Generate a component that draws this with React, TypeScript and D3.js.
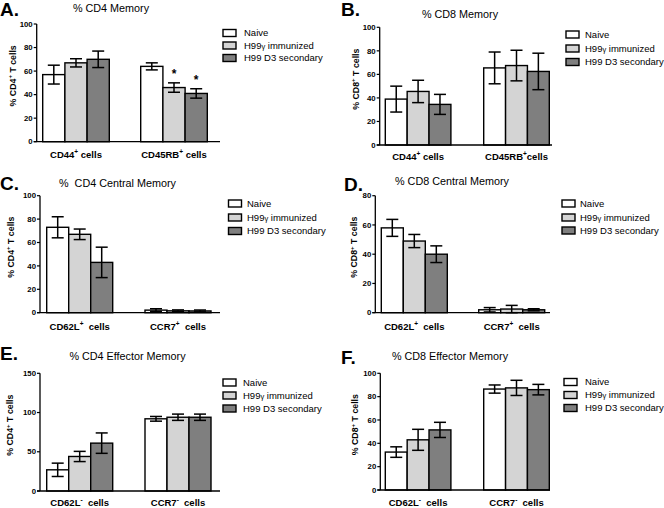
import React from "react";
import * as d3 from "d3";

const SERIES = ["Naive", "H99γ immunized", "H99 D3 secondary"];
const COLORS = ["#ffffff", "#d4d4d4", "#7f7f7f"];

// Panel A: % CD4 Memory
const A_CATS = [["CD44", "+", " cells"], ["CD45RB", "+", " cells"]];
const A_MEANS = [[57, 67, 70], [64, 46, 41]];
const A_ERRS = [[8, 3.5, 7], [3, 4, 4]];
const A_STARS = [[false, false, false], [false, true, true]];
const A_TICKS = [0, 20, 40, 60, 80, 100];

// Panel B: % CD8 Memory
const B_CATS = [["CD44", "+", " cells"], ["CD45RB", "+", "cells"]];
const B_MEANS = [[39, 45.5, 34.5], [65.5, 67.5, 62.5]];
const B_ERRS = [[11, 9.5, 8.5], [13.5, 13, 15.5]];
const B_TICKS = [0, 20, 40, 60, 80, 100];

// Panel C: % CD4 Central Memory
const C_CATS = [["CD62L", "+", "  cells"], ["CCR7", "+", "  cells"]];
const C_MEANS = [[73, 67, 43], [2.2, 1.6, 1.5]];
const C_ERRS = [[9, 4.5, 13], [1.2, 0.8, 0.8]];
const C_TICKS = [0, 20, 40, 60, 80, 100];

// Panel D: % CD8 Central Memory
const D_CATS = [["CD62L", "+", "  cells"], ["CCR7", "+", "  cells"]];
const D_MEANS = [[58, 49, 40], [2, 2.5, 2]];
const D_ERRS = [[5.8, 4.5, 5.7], [1.5, 2.5, 0.7]];
const D_TICKS = [0, 20, 40, 60, 80];

// Panel E: % CD4 Effector Memory
const E_CATS = [["CD62L", "-", "  cells"], ["CCR7", "-", "  cells"]];
const E_MEANS = [[27, 44, 61], [92, 94, 94]];
const E_ERRS = [[8.5, 6.5, 13], [3, 4, 4]];
const E_TICKS = [0, 50, 100, 150];

// Panel F: % CD8 Effector Memory
const F_CATS = [["CD62L", "-", "  cells"], ["CCR7", "-", "  cells"]];
const F_MEANS = [[32.5, 43, 51.5], [86.5, 87.5, 86]];
const F_ERRS = [[4.5, 9, 6.5], [3.5, 6.5, 4.5]];
const F_TICKS = [0, 20, 40, 60, 80, 100];

const FONT = "'Liberation Sans', Arial, Helvetica, sans-serif";

type Layout = {
  letter: string; letterX: number; letterY: number;
  title: string; titleX: number; titleY: number;
  yLabel: string; yLabelX: number;
  axisX: number; xEnd: number; yTop: number; yBottom: number; yMax: number;
  barsStart: number; barsEnd: number; groupStep: number;
  xLabelY: number;
  legX: number; legTextX: number; legRows: number[];
};

type PanelProps = {
  lay: Layout; cats: string[][]; means: number[][]; errs: number[][];
  ticks: number[]; stars?: boolean[][];
};

function Panel({ lay, cats, means, errs, ticks, stars }: PanelProps) {
  const y = d3.scaleLinear().domain([0, lay.yMax]).range([lay.yBottom, lay.yTop]);
  const catNames = cats.map((c) => c[0]);
  const bw = lay.barsEnd - lay.barsStart;
  const bandW = bw - lay.groupStep;
  const pInner = 1 - bandW / lay.groupStep;
  const x0 = d3.scaleBand().domain(catNames).range([lay.barsStart, lay.barsEnd]).paddingInner(pInner).paddingOuter(0);
  const x1 = d3.scaleBand().domain(SERIES).range([0, x0.bandwidth()]).padding(0);
  const capHalf = 6;
  const yMid = (lay.yTop + lay.yBottom) / 2 - 7;
  const [yl1, yl2, yl3] = lay.yLabel.split("|");
  return (
    <g fontFamily={FONT}>
      <text x={lay.letterX} y={lay.letterY} fontSize={19} fontWeight="bold">{lay.letter}</text>
      <text x={lay.titleX} y={lay.titleY} fontSize={10.8} textAnchor="middle" style={{ whiteSpace: "pre" }}>{lay.title}</text>
      <text transform={`translate(${lay.yLabelX},${yMid}) rotate(-90)`} fontSize={8.8} fontWeight="bold" textAnchor="middle">
        {yl1}<tspan fontSize={6} dy={-3.5}>{yl2}</tspan><tspan dy={3.5}>{yl3}</tspan>
      </text>
      {/* bars */}
      {cats.map((c, ci) => (
        <g key={c[0]}>
          {SERIES.map((s, si) => {
            const bx = (x0(c[0]) as number) + (x1(s) as number);
            const w = x1.bandwidth();
            const m = means[ci][si];
            const e = errs[ci][si];
            const cx = bx + w / 2;
            return (
              <g key={s}>
                <rect x={bx} y={y(m)} width={w} height={y(0) - y(m)} fill={COLORS[si]} stroke="#000" strokeWidth={1.4} />
                <line x1={cx} x2={cx} y1={y(m - e)} y2={y(m + e)} stroke="#000" strokeWidth={1.5} />
                <line x1={cx - capHalf} x2={cx + capHalf} y1={y(m + e)} y2={y(m + e)} stroke="#000" strokeWidth={1.5} />
                <line x1={cx - capHalf} x2={cx + capHalf} y1={y(m - e)} y2={y(m - e)} stroke="#000" strokeWidth={1.5} />
                {stars && stars[ci][si] ? (
                  <text x={cx} y={y(m + e) - 5} fontSize={12} fontWeight="bold" textAnchor="middle">*</text>
                ) : null}
              </g>
            );
          })}
          <text x={(x0(c[0]) as number) + x0.bandwidth() / 2} y={lay.xLabelY} fontSize={9.5} fontWeight="bold" textAnchor="middle" style={{ whiteSpace: "pre" }}>
            {c[0]}<tspan fontSize={6.5} dy={-4}>{c[1]}</tspan><tspan dy={4}>{c[2]}</tspan>
          </text>
        </g>
      ))}
      {/* axes */}
      <line x1={lay.axisX} x2={lay.axisX} y1={lay.yTop} y2={lay.yBottom} stroke="#000" strokeWidth={1.3} />
      <line x1={lay.axisX - 3} x2={lay.xEnd} y1={lay.yBottom} y2={lay.yBottom} stroke="#000" strokeWidth={1.3} />
      {ticks.map((t) => (
        <g key={t}>
          <line x1={lay.axisX - 3} x2={lay.axisX} y1={y(t)} y2={y(t)} stroke="#000" strokeWidth={1.2} />
          <text x={lay.axisX - 4} y={y(t)} dy="0.35em" fontSize={7.8} fontWeight="bold" textAnchor="end">{t}</text>
        </g>
      ))}
      {/* legend */}
      {SERIES.map((s, si) => (
        <g key={s}>
          <rect x={lay.legX} y={lay.legRows[si] - 3.5} width={13} height={7} fill={COLORS[si]} stroke="#000" strokeWidth={1.4} />
          <text x={lay.legTextX} y={lay.legRows[si]} dy="0.36em" fontSize={9.5}>
            {si === 1 ? (<>H99<tspan fontSize={7.5}>γ</tspan> immunized</>) : s}
          </text>
        </g>
      ))}
    </g>
  );
}

const LAYOUTS: Record<string, Layout> = {
  A: { letter: "A.", letterX: 0, letterY: 16, title: "% CD4 Memory", titleX: 111, titleY: 12,
    yLabel: "% CD4|+| T cells", yLabelX: 15.5, axisX: 36.7, xEnd: 220, yTop: 24, yBottom: 141.7, yMax: 100,
    barsStart: 42.7, barsEnd: 207.3, groupStep: 98, xLabelY: 158, legX: 223, legTextX: 244, legRows: [33, 45.5, 58] },
  B: { letter: "B.", letterX: 341, letterY: 16, title: "% CD8 Memory", titleX: 460, titleY: 17.5,
    yLabel: "% CD8|+| T cells", yLabelX: 358.5, axisX: 379.7, xEnd: 552, yTop: 27.3, yBottom: 145, yMax: 100,
    barsStart: 385.3, barsEnd: 549.3, groupStep: 98.4, xLabelY: 159.5, legX: 566, legTextX: 585, legRows: [34.5, 48.5, 62] },
  C: { letter: "C.", letterX: 0, letterY: 190, title: "%  CD4 Central Memory", titleX: 117.5, titleY: 186.5,
    yLabel: "% CD4|+| T cells", yLabelX: 13.5, axisX: 40, xEnd: 220, yTop: 195.7, yBottom: 312.7, yMax: 100,
    barsStart: 46.7, barsEnd: 211, groupStep: 98.3, xLabelY: 330, legX: 228.5, legTextX: 247, legRows: [203.5, 217.5, 231] },
  D: { letter: "D.", letterX: 344, letterY: 191, title: "% CD8 Central Memory", titleX: 452, titleY: 184.5,
    yLabel: "% CD8|+| T cells", yLabelX: 357, axisX: 375.3, xEnd: 550, yTop: 195.7, yBottom: 312.7, yMax: 80,
    barsStart: 381.3, barsEnd: 544.7, groupStep: 97.4, xLabelY: 330, legX: 562, legTextX: 580, legRows: [203.5, 217.5, 230.5] },
  E: { letter: "E.", letterX: 0, letterY: 360, title: "% CD4 Effector Memory", titleX: 127.5, titleY: 360,
    yLabel: "% CD4|+| T cells", yLabelX: 13, axisX: 40, xEnd: 220, yTop: 373.3, yBottom: 491, yMax: 150,
    barsStart: 46.7, barsEnd: 211, groupStep: 98.3, xLabelY: 506, legX: 223, legTextX: 243, legRows: [382.5, 395.5, 408.5] },
  F: { letter: "F.", letterX: 341, letterY: 364, title: "% CD8 Effector Memory", titleX: 450, titleY: 359.5,
    yLabel: "% CD8|+| T cells", yLabelX: 358, axisX: 380.3, xEnd: 550, yTop: 373.3, yBottom: 490, yMax: 100,
    barsStart: 385.3, barsEnd: 549.3, groupStep: 98.4, xLabelY: 506, legX: 564, legTextX: 585, legRows: [382, 395, 408] },
};

export default function App() {
  return (
    <svg width={664} height={508} style={{ position: "absolute", left: 0, top: 0, background: "#fff" }}>
      <rect width={664} height={508} fill="#fff" />
      <Panel lay={LAYOUTS.A} cats={A_CATS} means={A_MEANS} errs={A_ERRS} ticks={A_TICKS} stars={A_STARS} />
      <Panel lay={LAYOUTS.B} cats={B_CATS} means={B_MEANS} errs={B_ERRS} ticks={B_TICKS} />
      <Panel lay={LAYOUTS.C} cats={C_CATS} means={C_MEANS} errs={C_ERRS} ticks={C_TICKS} />
      <Panel lay={LAYOUTS.D} cats={D_CATS} means={D_MEANS} errs={D_ERRS} ticks={D_TICKS} />
      <Panel lay={LAYOUTS.E} cats={E_CATS} means={E_MEANS} errs={E_ERRS} ticks={E_TICKS} />
      <Panel lay={LAYOUTS.F} cats={F_CATS} means={F_MEANS} errs={F_ERRS} ticks={F_TICKS} />
    </svg>
  );
}
